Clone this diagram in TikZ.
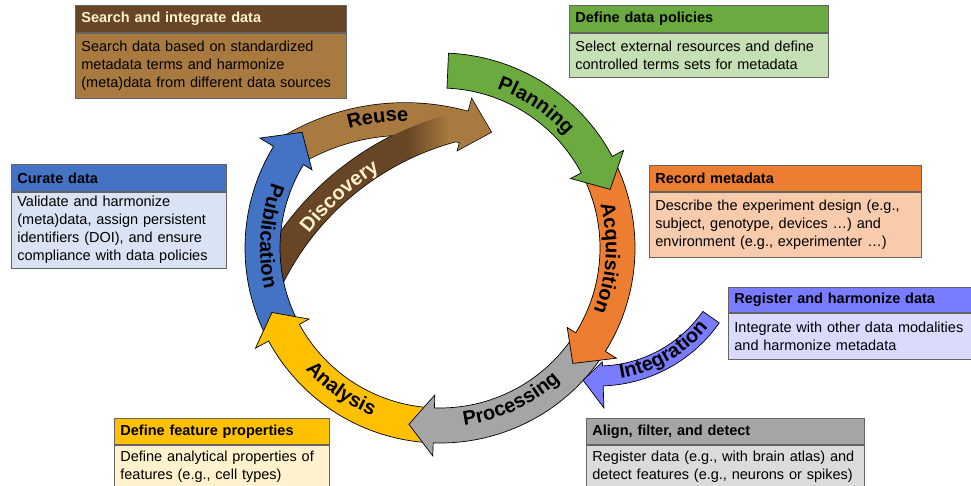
\documentclass[tikz,border=0pt]{standalone}
\usepackage{fontspec}
\setmainfont{Liberation Sans}
\usetikzlibrary{decorations.text}
\definecolor{brownD}{RGB}{104,69,36}
\definecolor{brownL}{RGB}{168,122,64}
\definecolor{cream}{RGB}{255,242,204}
\definecolor{cgreen}{RGB}{106,170,62}
\definecolor{cgreenL}{RGB}{197,224,180}
\definecolor{corange}{RGB}{237,125,49}
\definecolor{corangeL}{RGB}{248,203,173}
\definecolor{cgrey}{RGB}{165,165,165}
\definecolor{cgreyL}{RGB}{219,219,219}
\definecolor{cyellow}{RGB}{255,192,0}
\definecolor{cyellowL}{RGB}{255,242,204}
\definecolor{cblue}{RGB}{68,114,196}
\definecolor{cblueL}{RGB}{218,227,243}
\definecolor{cperi}{RGB}{122,124,255}
\definecolor{cperiL}{RGB}{218,218,255}
\definecolor{boxline}{RGB}{100,100,100}
\pgfdeclarehorizontalshading{discshade}{100bp}{color(0bp)=(brownD); color(62bp)=(brownD); color(72bp)=(brownL); color(100bp)=(brownL)}

\newcommand\lblfont{\fontsize{20}{24}\selectfont\bfseries}
\newcommand\boxfont{\fontsize{14.5}{18}\selectfont}
\newcommand\lblcream{\fontsize{20}{24}\selectfont\bfseries\color{cream}}

% center, r-inner, r-outer, start, base, tip angle, barb-inner, barb-outer, tip radius
\newcommand\carrow[9]{([shift={(#1)}]#4:#3) arc[start angle=#4, end angle=#5, radius=#3] -- ([shift={(#1)}]#5:#8) -- ([shift={(#1)}]#6:#9) -- ([shift={(#1)}]#5:#7) -- ([shift={(#1)}]#5:#2) arc[start angle=#5, end angle=#4, radius=#2] -- cycle}
\newcommand\discpath{([shift={(527,81)}]155:301) arc[start angle=155, end angle=104, radius=301] -- ([shift={(527,81)}]104:273) arc[start angle=104, end angle=155, radius=273] -- cycle}
\newcommand\arclabel[6]{\path[decorate, decoration={text along path, text align=center, text={|#5|#6}}] ([shift={(#1)}]#3:#2) arc[start angle=#3, end angle=#4, radius=#2];}

\tikzset{
  arrowshape/.style={draw=black, line width=0.7, line join=miter},
  hbox/.style={draw=boxline, line width=0.8, anchor=north west, inner xsep=6pt, inner ysep=0pt, align=left, font=\boxfont\bfseries},
  bbox/.style={draw=boxline, line width=0.8, anchor=north west, inner xsep=6pt, inner ysep=0pt, align=left, font=\boxfont},
}

\begin{document}
\begin{tikzpicture}[x=1pt, y=1pt]
\useasboundingbox (0,0) rectangle (971,486);
\clip (0,0) rectangle (971,486);
\fill[white] (0,0) rectangle (971,486);

% Reuse + Discovery (merged)
\draw[line width=1.4, line join=miter] \carrow{405,146}{205}{237}{120}{74.5}{67.5}{197}{250}{225};
\draw[line width=1.4] \discpath;
\fill[brownL] \carrow{405,146}{205}{237}{120}{74.5}{67.5}{197}{250}{225};
\shade[shading=discshade] \discpath;

% main cycle
\draw[arrowshape, fill=cblue] \carrow{440,238}{160}{195}{206}{148.6}{140}{150}{211}{180};
\draw[arrowshape, fill=cyellow] \carrow{440,238}{160}{195}{-94}{-151.5}{-159}{149}{210}{180};
\draw[arrowshape, fill=cgrey] \carrow{440,238}{160}{195}{-34}{-92}{-100}{147}{208}{179};
\draw[arrowshape, fill=cperi] \carrow{598,248}{128}{148}{-35}{-88}{-96}{124}{170}{143};
\draw[arrowshape, fill=corange] \carrow{440,238}{160}{195}{26}{-32}{-41}{150}{208}{176};
\draw[arrowshape, fill=cgreen] \carrow{440,238}{160}{195}{87.5}{28}{19}{148}{208}{180};

% labels
\arclabel{440,238}{169}{91}{21}{\lblfont}{Planning}
\arclabel{440,238}{166}{40}{-47}{\lblfont}{Acquisition}
\arclabel{440,238}{179}{-110}{-20}{\lblfont}{Processing}
\arclabel{440,238}{181}{-165}{-85}{\lblfont}{Analysis}
\arclabel{440,238}{180}{136}{216}{\lblfont}{Publication}
\arclabel{405,146}{219}{117}{77}{\lblfont}{Reuse}
\arclabel{527,81}{277}{152}{112}{\lblcream}{Discovery}
\arclabel{598,248}{142}{-100}{-20}{\lblfont}{Integration}

% boxes
\node[hbox, fill=brownD, text=cream, minimum width=271, text width=259, minimum height=27] (searchH) at (75,481) {Search and integrate data};
\node[bbox, fill=brownL, minimum width=271, text width=259, minimum height=65] (searchB) at (searchH.south west) {Search data based on standardized\\metadata terms and harmonize\\(meta)data from different data sources};

\node[hbox, fill=cblue, minimum width=215, text width=203, minimum height=27] (curateH) at (11,322) {Curate data};
\node[bbox, fill=cblueL, minimum width=215, text width=203, minimum height=76] (curateB) at (curateH.south west) {Validate and harmonize\\(meta)data, assign persistent\\identifiers (DOI), and ensure\\compliance with data policies};

\node[hbox, fill=cgreen, minimum width=259, text width=247, minimum height=27] (policyH) at (569,481) {Define data policies};
\node[bbox, fill=cgreenL, minimum width=259, text width=247, minimum height=44] (policyB) at (policyH.south west) {Select external resources and define\\controlled terms sets for metadata};

\node[hbox, fill=corange, minimum width=272, text width=260, minimum height=26] (recordH) at (649,321) {Record metadata};
\node[bbox, fill=corangeL, minimum width=272, text width=260, minimum height=65] (recordB) at (recordH.south west) {Describe the experiment design (e.g.,\\subject, genotype, devices …) and\\environment (e.g., experimenter …)};

\node[hbox, fill=cperi, minimum width=260, text width=248, minimum height=25] (registerH) at (728,199) {Register and harmonize data};
\node[bbox, fill=cperiL, minimum width=260, text width=248, minimum height=46] (registerB) at (registerH.south west) {Integrate with other data modalities\\and harmonize metadata};

\node[hbox, fill=cgrey, minimum width=278, text width=272, inner xsep=3pt, minimum height=26] (alignH) at (586,68) {\hspace*{3pt}Align, filter, and detect};
\node[bbox, fill=cgreyL, minimum width=278, text width=272, inner xsep=3pt, minimum height=43] (alignB) at (alignH.south west) {\hspace*{3pt}Register data (e.g., with brain atlas) and\\\hspace*{3pt}detect features (e.g., neurons or spikes)};

\node[hbox, fill=cyellow, minimum width=215, text width=203, minimum height=26] (featH) at (114,68) {Define feature properties};
\node[bbox, fill=cyellowL, minimum width=215, text width=203, minimum height=43] (featB) at (featH.south west) {Define analytical properties of\\features (e.g., cell types)};
\end{tikzpicture}
\end{document}
